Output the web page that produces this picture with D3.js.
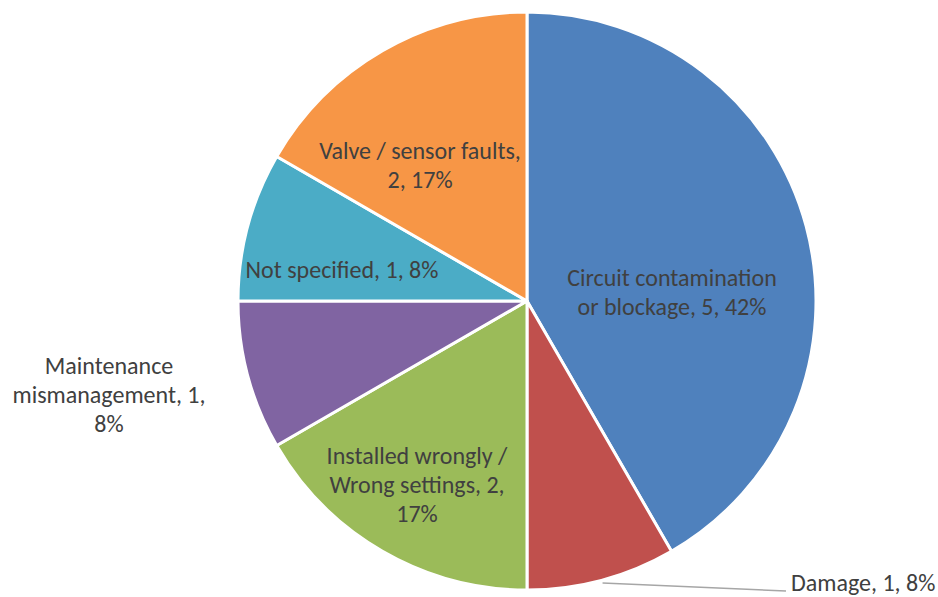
<!DOCTYPE html>
<html>
<head>
<meta charset="utf-8">
<script src="https://cdn.jsdelivr.net/npm/d3@7/dist/d3.min.js"></script>
<style>
  html, body { margin: 0; padding: 0; background: #fff; }
  svg text { font-family: Carlito, Calibri, Lato, sans-serif; fill: #404040; }
</style>
</head>
<body>
<svg id="chart" width="938" height="597"></svg>
<script>
// Causes of faults, counts
const categories = [
  "Circuit contamination or blockage",
  "Damage",
  "Installed wrongly / Wrong settings",
  "Maintenance mismanagement",
  "Not specified",
  "Valve / sensor faults"
];
const counts = [5, 1, 2, 1, 1, 2];
const colors = ["#4F81BD", "#C0504D", "#9BBB59", "#8064A2", "#4BACC6", "#F79646"];

// Label text split into lines as they wrap on the chart
const labelLines = [
  ["Circuit contamination", "or blockage, 5, 42%"],
  ["Damage, 1, 8%"],
  ["Installed wrongly /", "Wrong settings, 2,", "17%"],
  ["Maintenance", "mismanagement, 1,", "8%"],
  ["Not specified, 1, 8%"],
  ["Valve / sensor faults,", "2, 17%"]
];

const svg = d3.select("#chart");
const cx = 527, cy = 301, r = 289;
const g = svg.append("g").attr("transform", `translate(${cx},${cy})`);

const data = categories.map((c, i) => ({ name: c, value: counts[i], color: colors[i], lines: labelLines[i] }));
const pie = d3.pie().sort(null).value(d => d.value);
const arcs = pie(data);
const arc = d3.arc().innerRadius(0).outerRadius(r);

g.selectAll("path.slice")
  .data(arcs)
  .join("path")
  .attr("class", "slice")
  .attr("d", arc)
  .attr("fill", d => d.data.color)
  .attr("stroke", "#fff")
  .attr("stroke-width", 3)
  .attr("stroke-linejoin", "round");

// Label anchor positions (relative to centre) by category
const labelPos = {
  "Circuit contamination or blockage": { x: 145, y: -9, anchor: "middle" },
  "Damage": { x: 264, y: 282, anchor: "start" },
  "Installed wrongly / Wrong settings": { x: -110, y: 184, anchor: "middle" },
  "Maintenance mismanagement": { x: -418, y: 94, anchor: "middle" },
  "Not specified": { x: -185, y: -31, anchor: "middle" },
  "Valve / sensor faults": { x: -107, y: -136, anchor: "middle" }
};
const lineH = 29;

// Leader line for the small slice whose label sits outside
const damage = arcs[1];
const mid = (damage.startAngle + damage.endAngle) / 2;
const edge = [Math.sin(mid) * r * 1.01, -Math.cos(mid) * r * 1.01];
g.append("path")
  .attr("d", d3.line()([edge, [259, 290]]))
  .attr("fill", "none")
  .attr("stroke", "#A6A6A6")
  .attr("stroke-width", 1.5);

arcs.forEach(a => {
  const p = labelPos[a.data.name];
  const n = a.data.lines.length;
  const t = g.append("text")
    .attr("text-anchor", p.anchor)
    .attr("font-size", 24);
  a.data.lines.forEach((ln, i) => {
    t.append("tspan")
      .attr("x", p.x)
      .attr("y", p.y + (i - (n - 1) / 2) * lineH)
      .attr("dy", "0.35em")
      .text(ln);
  });
});
</script>
</body>
</html>
